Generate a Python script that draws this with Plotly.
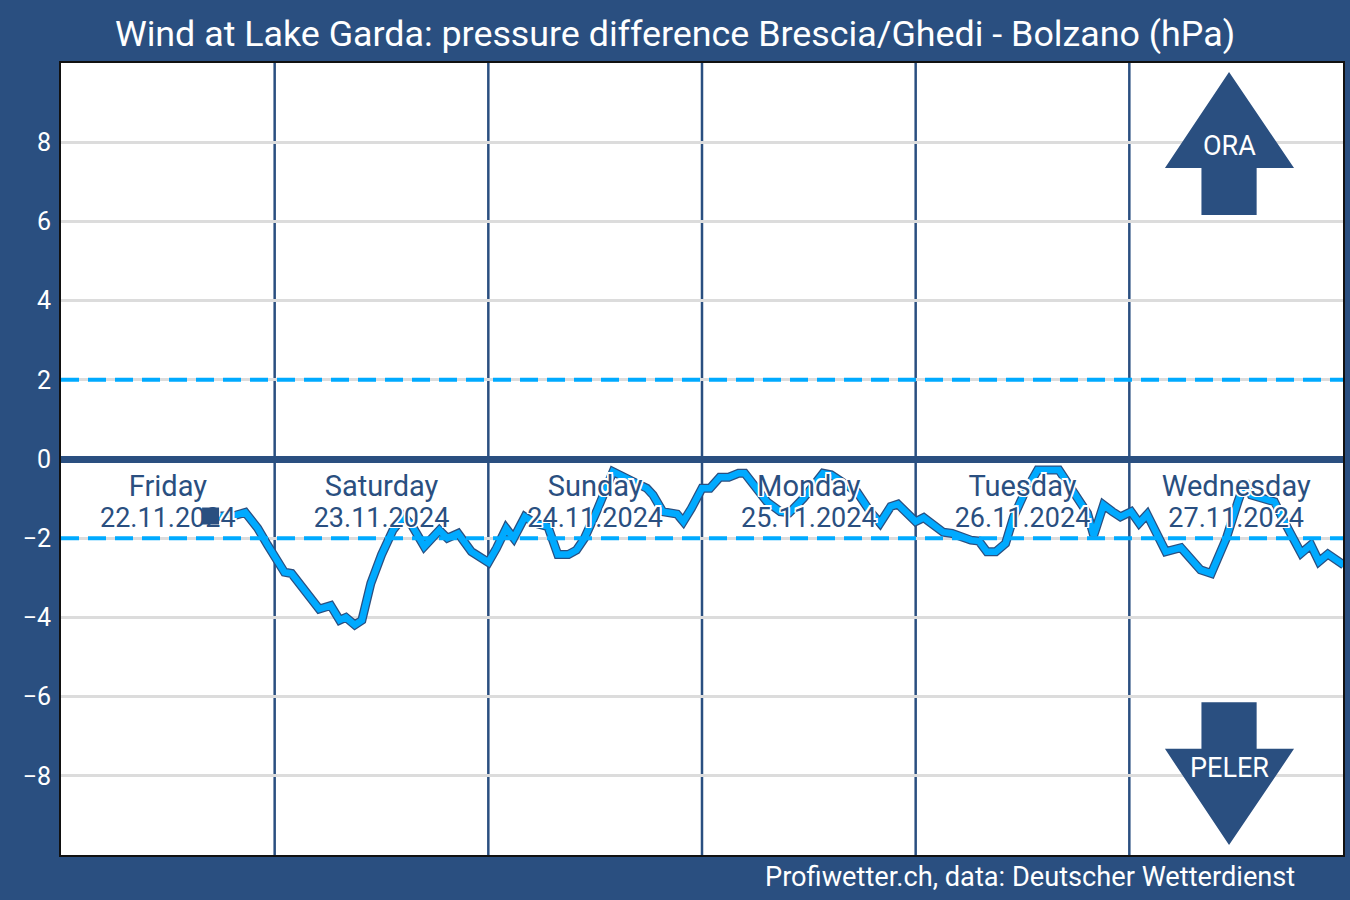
import plotly.graph_objects as go

# ---- data ----
hours = [17.0, 19.6, 20.7, 22.1, 23.2, 25.1, 25.9, 29.0, 30.3, 31.3, 32.0, 33.0, 33.8, 34.8, 36.0,
         37.3, 38.5, 39.4, 40.8, 42.5, 43.4, 44.6, 46.1, 48.0, 48.9, 50.0, 50.85, 52.1, 53.2, 54.0,
         54.7, 55.8, 57.0, 57.9, 58.8, 60.15, 62.0, 64.5, 65.8, 66.5, 67.6, 69.2, 69.9, 70.8, 72.0,
         72.9, 74.0, 75.0, 76.1, 76.8, 78.2, 79.3, 80.8, 81.8, 83.4, 85.6, 86.5, 89.4, 90.9, 92.0,
         93.2, 94.0, 96.0, 96.9, 99.1, 100.1, 102.2, 103.1, 104.0, 105.0, 106.1, 107.0, 108.2, 109.7,
         112.1, 114.2, 115.3, 116.0, 117.1, 118.1, 119.0, 120.2, 121.1, 122.0, 124.1, 125.8, 126.9,
         128.0, 129.2, 130.9, 132.2, 133.0, 133.7, 135.0, 136.3, 137.4, 139.3, 140.4, 141.3, 142.3,
         143.4, 144.1]
pressure_diff = [-1.45, -1.42, -1.35, -1.75, -2.17, -2.86, -2.89, -3.79, -3.70, -4.07, -4.00, -4.19,
                 -4.07, -3.14, -2.42, -1.79, -1.45, -1.67, -2.21, -1.80, -2.00, -1.88, -2.34, -2.61,
                 -2.26, -1.75, -2.00, -1.46, -1.62, -1.67, -1.71, -2.41, -2.41, -2.30, -2.00, -1.33,
                 -0.32, -0.60, -0.74, -0.91, -1.33, -1.39, -1.58, -1.25, -0.74, -0.74, -0.46, -0.46,
                 -0.36, -0.36, -0.78, -1.08, -1.33, -1.36, -0.99, -0.36, -0.40, -0.83, -1.33, -1.62,
                 -1.20, -1.14, -1.58, -1.48, -1.85, -1.88, -2.05, -2.07, -2.34, -2.34, -2.13, -1.46,
                 -0.87, -0.28, -0.28, -0.99, -1.37, -1.93, -1.16, -1.33, -1.46, -1.33, -1.62, -1.40,
                 -2.34, -2.24, -2.55, -2.80, -2.89, -2.00, -1.08, -0.57, -0.91, -0.99, -1.08, -1.58,
                 -2.38, -2.17, -2.59, -2.40, -2.58, -2.68]

day_names = ["Friday", "Saturday", "Sunday", "Monday", "Tuesday", "Wednesday"]
day_dates = ["22.11.2024", "23.11.2024", "24.11.2024", "25.11.2024", "26.11.2024", "27.11.2024"]
thresholds = [2, -2]
y_ticks = [-8, -6, -4, -2, 0, 2, 4, 6, 8]
marker_x = [16.8]
marker_y = [-1.44]

DARK = "#2a4f80"
LIGHT = "#00aaff"
FONT = "Roboto"
HALO = ("-1.5px -1.5px 0 #fff, 1.5px -1.5px 0 #fff, -1.5px 1.5px 0 #fff, 1.5px 1.5px 0 #fff, "
        "0 -1.5px 0 #fff, 0 1.5px 0 #fff, -1.5px 0 0 #fff, 1.5px 0 0 #fff")

n_days = len(day_names)
total_h = 24 * n_days
day_centers = [12 + 24 * i for i in range(n_days)]

ML, MR = 61, 5
PW = 1350 - ML - MR

fig = go.Figure()

# data line: dark outline + light core
fig.add_trace(go.Scatter(x=hours, y=pressure_diff, mode="lines",
                         line=dict(color=DARK, width=9), hoverinfo="skip", showlegend=False))
fig.add_trace(go.Scatter(x=hours, y=pressure_diff, mode="lines",
                         line=dict(color=LIGHT, width=6.5), showlegend=False))

# dashed thresholds
for t in thresholds:
    fig.add_trace(go.Scatter(x=[0, total_h], y=[t, t], mode="lines",
                             line=dict(color=LIGHT, width=4, dash="18px,9px"),
                             hoverinfo="skip", showlegend=False))

# day labels
fig.add_trace(go.Scatter(x=day_centers, y=[-0.74] * n_days, mode="text", text=day_names,
                         textposition="middle center",
                         textfont=dict(family=FONT, size=29, color=DARK, shadow=HALO),
                         hoverinfo="skip", showlegend=False))
fig.add_trace(go.Scatter(x=day_centers, y=[-1.54] * n_days, mode="text", text=day_dates,
                         textposition="middle center",
                         textfont=dict(family=FONT, size=27, color=DARK, shadow=HALO),
                         hoverinfo="skip", showlegend=False))

# square marker
fig.add_trace(go.Scatter(x=marker_x, y=marker_y, mode="markers",
                         marker=dict(symbol="square", size=17, color=DARK),
                         hoverinfo="skip", showlegend=False))

shapes = []
# day separators
for i in range(1, n_days):
    shapes.append(dict(type="line", xref="x", yref="paper", x0=24 * i, x1=24 * i, y0=0, y1=1,
                       line=dict(color=DARK, width=2.5), layer="between"))

# arrows
xa, xb, xs0, xs1, xc = 124.0, 138.5, 128.1, 134.3, 131.2
shapes.append(dict(type="path", xref="x", yref="y", fillcolor=DARK, line=dict(width=0),
                   path=f"M {xs0} 6.16 L {xs0} 7.35 L {xa} 7.35 L {xc} 9.77 L {xb} 7.35 "
                        f"L {xs1} 7.35 L {xs1} 6.16 Z"))
shapes.append(dict(type="path", xref="x", yref="y", fillcolor=DARK, line=dict(width=0),
                   path=f"M {xs0} -6.14 L {xs0} -7.32 L {xa} -7.32 L {xc} -9.75 L {xb} -7.32 "
                        f"L {xs1} -7.32 L {xs1} -6.14 Z"))

annotations = [
    dict(x=xc, y=7.9, xref="x", yref="y", text="ORA", showarrow=False,
         font=dict(family=FONT, size=27, color="white")),
    dict(x=xc, y=-7.8, xref="x", yref="y", text="PELER", showarrow=False,
         font=dict(family=FONT, size=27, color="white")),
    dict(x=(1299 - ML) / PW, y=-0.028, xref="paper", yref="paper", xanchor="right",
         yanchor="middle", text="Profiwetter.ch, data: Deutscher Wetterdienst", showarrow=False,
         font=dict(family=FONT, size=27.2, color="white")),
]

fig.update_layout(
    width=1350, height=900,
    paper_bgcolor=DARK, plot_bgcolor="white",
    margin=dict(l=ML, r=MR, t=63, b=45),
    title=dict(text="Wind at Lake Garda: pressure difference Brescia/Ghedi - Bolzano (hPa)",
               x=0.5, xanchor="center", y=1 - 33 / 900, yanchor="middle", yref="container",
               font=dict(family=FONT, size=35.8, color="white")),
    showlegend=False,
    shapes=shapes,
    annotations=annotations,
    xaxis=dict(range=[0, total_h], showticklabels=False, showgrid=False, zeroline=False,
               showline=True, mirror=True, linecolor="#111", linewidth=2, fixedrange=True),
    yaxis=dict(range=[-10, 10], tickvals=y_ticks, ticktext=[str(v).replace("-", "\u2212") for v in y_ticks],
               showgrid=True, gridcolor="#dcdcdc", gridwidth=3,
               zeroline=True, zerolinecolor=DARK, zerolinewidth=7,
               showline=True, mirror=True, linecolor="#111", linewidth=2,
               ticks="outside", ticklen=3, tickcolor="rgba(0,0,0,0)",
               tickfont=dict(family=FONT, size=25, color="white")),
)

fig.write_html("out.html", config={"displayModeBar": False},
               post_script="document.body.style.margin='0';document.body.style.padding='0';"
                           "document.body.style.overflow='hidden';")
